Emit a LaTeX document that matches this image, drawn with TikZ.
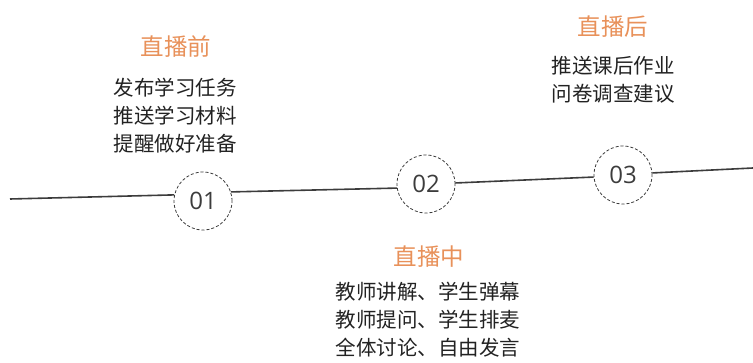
\documentclass[tikz,border=0pt]{standalone}
\usepackage{fontspec}
\newfontfamily\cjk{Noto Sans CJK SC}
\newfontfamily\numfont{Open Sans}
\usepackage{xcolor}
\usepackage{tikz}
\usetikzlibrary{positioning}
\definecolor{phaseorange}{HTML}{E8915A}
\definecolor{linegray}{HTML}{3C3C3C}
\definecolor{textgray}{HTML}{222222}

\begin{document}
\begin{tikzpicture}[x=1pt, y=-1pt,
    stepcircle/.style={circle, draw=linegray, line width=0.8pt, dash pattern=on 3pt off 2pt, minimum size=58pt, inner sep=0pt, font=\numfont\fontsize{24}{24}\selectfont, text=linegray},
    phasetitle/.style={font=\cjk\fontsize{23.5}{23.5}\selectfont, text=phaseorange},
    phasebody/.style={font=\cjk\fontsize{20.5}{28}\selectfont, text=textgray, align=center}]
    \useasboundingbox (0,0) rectangle (753,363);
    % timeline
    \node[stepcircle] (c1) at (203,201) {01};
    \node[stepcircle] (c2) at (426,184) {02};
    \node[stepcircle] (c3) at (623,175) {03};
    \coordinate (s) at (10,199);
    \coordinate (e) at (753,168);
    \draw[linegray, line width=1.6pt] (s) -- (c1.168) (c1.18) -- (c2.188) (c2.2) -- (c3.184) (c3.4) -- (e);
    % phases
    \node[phasetitle] (t1) at (176,47) {直播前};
    \node[phasebody] (b1) at (175,116) {发布学习任务\\推送学习材料\\提醒做好准备};
    \node[phasetitle] (t2) at (429,257) {直播中};
    \node[phasebody] (b2) at (428,320) {教师讲解、学生弹幕\\教师提问、学生排麦\\全体讨论、自由发言};
    \node[phasetitle] (t3) at (613,27) {直播后};
    \node[phasebody] (b3) at (613,80) {推送课后作业\\问卷调查建议};
\end{tikzpicture}
\end{document}
